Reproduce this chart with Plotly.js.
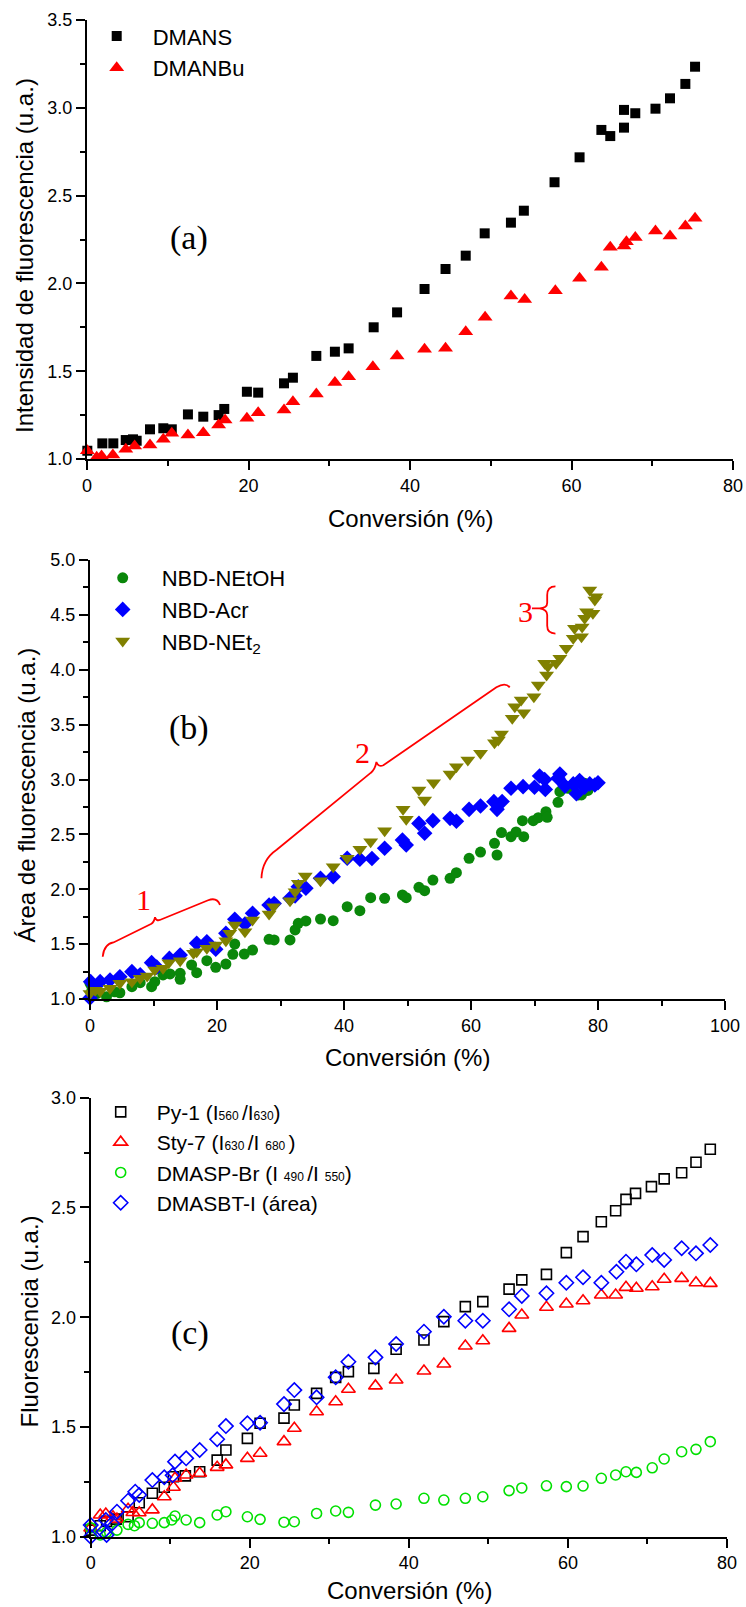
<!DOCTYPE html>
<html>
<head>
<meta charset="utf-8">
<script src="https://cdn.plot.ly/plotly-3.0.1.min.js"></script>
<style>html,body{margin:0;padding:0;background:#fff;}#chart{width:746px;height:1607px;}</style>
</head>
<body>
<div id="chart"></div>
<script>
// ---------- Panel (a) ----------
const dmansX = [0.04,1.2,1.9,3.26,4.8,5.7,6.15,7.8,9.45,10.5,12.5,14.4,16.3,17.0,19.8,21.2,24.4,25.5,28.4,30.7,32.4,35.5,38.4,41.8,44.4,46.9,49.25,52.5,54.1,57.9,61.0,63.7,64.8,66.5,66.5,67.9,70.4,72.2,74.1,75.3];
const dmansY = [1.047,0.995,1.089,1.089,1.108,1.112,1.104,1.169,1.175,1.169,1.254,1.241,1.25,1.285,1.383,1.378,1.431,1.463,1.587,1.611,1.630,1.75,1.835,1.968,2.082,2.158,2.285,2.346,2.414,2.576,2.718,2.874,2.839,2.988,2.887,2.969,2.995,3.054,3.136,3.234];
const dmanbuX = [0.04,1.2,1.8,3.2,4.8,5.9,7.8,9.45,10.5,12.5,14.4,16.3,17.1,19.8,21.2,24.4,25.5,28.4,30.7,32.4,35.4,38.4,41.8,44.4,46.9,49.3,52.5,54.2,58.0,61.0,63.7,64.8,66.5,66.8,67.9,70.4,72.2,74.1,75.3];
const dmanbuY = [1.047,1.01,1.017,1.023,1.055,1.074,1.08,1.112,1.146,1.137,1.15,1.194,1.222,1.232,1.264,1.279,1.326,1.37,1.435,1.469,1.526,1.587,1.625,1.63,1.725,1.807,1.928,1.909,1.958,2.029,2.092,2.206,2.213,2.237,2.262,2.298,2.27,2.327,2.371];

// ---------- Panel (b) ----------
const netohX = [0,0.3,1.05,2.6,3.9,4.7,6.6,7.9,9.7,10.2,11.5,12.6,14.2,14.2,16.0,16.8,18.4,19.8,21.4,22.5,22.8,24.3,25.6,28.2,29.0,31.5,32.3,32.8,34.0,36.3,38.3,40.5,42.5,44.2,46.4,49.2,49.8,51.8,52.7,54.0,56.7,57.7,59.7,61.5,63.7,64.1,64.8,66.3,67.1,68.3,68.1,69.8,70.6,71.8,72.0,73.7,74.0,75.3,76.1,76.9,77.4,77.9,78.4,78.9];
const netohY = [1.143,1.08,1.05,1.02,1.066,1.057,1.112,1.149,1.112,1.158,1.219,1.228,1.234,1.18,1.31,1.24,1.349,1.289,1.319,1.407,1.501,1.41,1.446,1.544,1.538,1.538,1.629,1.69,1.711,1.729,1.714,1.841,1.805,1.923,1.917,1.948,1.923,2.018,1.987,2.084,2.1,2.151,2.282,2.339,2.418,2.312,2.516,2.479,2.522,2.479,2.625,2.625,2.652,2.707,2.655,2.792,2.889,2.92,2.904,2.859,2.859,2.965,2.90,2.95];
const acrX = [0,0.1,0.8,1.6,3.15,4.7,6.6,7.9,9.7,10.5,12.5,14.2,16.8,18.4,19.8,21.4,22.8,24.4,25.6,28.2,29.0,31.5,32.3,32.8,34.0,36.3,38.3,40.5,42.5,44.4,46.4,49.2,49.8,51.8,52.7,54.0,56.7,57.7,59.7,61.5,63.6,64.1,64.9,66.3,68.2,70.0,70.8,71.6,71.7,73.7,74.0,74.8,76.1,76.6,77.1,77.9,78.7,79.5,80.0];
const acrY = [1.01,1.158,1.112,1.158,1.173,1.203,1.249,1.22,1.331,1.29,1.37,1.40,1.507,1.522,1.453,1.598,1.726,1.683,1.781,1.856,1.87,1.917,1.94,2.023,2.009,2.1,2.115,2.282,2.273,2.28,2.373,2.449,2.403,2.6,2.51,2.625,2.646,2.62,2.728,2.758,2.798,2.728,2.80,2.92,2.935,2.929,3.032,3.0,2.91,3.011,3.05,2.94,2.96,2.87,2.99,2.93,2.96,2.95,2.97];
const net2X = [0,0.8,1.6,3.15,4.7,6.6,7.9,9.0,10.2,11.5,12.4,14.2,16.3,16.8,18.4,19.8,21.4,22.0,22.8,24.4,25.6,28.2,28.9,31.5,32.3,32.8,33.9,36.3,38.3,40.5,42.5,44.2,46.4,49.3,49.8,51.8,52.7,54.1,56.7,57.7,59.5,61.5,63.7,64.3,64.8,66.5,66.9,68.3,67.9,69.9,70.6,71.9,71.6,72.1,73.4,74.0,75.0,76.1,76.3,77.4,77.5,77.9,78.2,79.2,79.5,78.7,79.7];
const net2Y = [1.05,1.08,1.07,1.097,1.143,1.158,1.19,1.21,1.264,1.28,1.33,1.349,1.416,1.43,1.462,1.492,1.531,1.60,1.674,1.613,1.72,1.775,1.841,1.896,1.978,2.054,2.12,2.078,2.206,2.282,2.364,2.433,2.533,2.728,2.637,2.905,2.813,2.971,3.05,3.117,3.178,3.239,3.335,3.36,3.414,3.557,3.663,3.609,3.724,3.754,3.861,3.952,4.059,4.03,4.059,4.104,4.195,4.287,4.378,4.301,4.39,4.469,4.529,4.514,4.636,4.727,4.666];

// ---------- Panel (c) ----------
const pyX = [0,1.2,2.0,3.2,4.7,6.1,7.75,9.25,10.4,11.9,13.7,15.9,17.0,19.7,21.3,24.3,25.6,28.4,30.8,32.4,35.6,38.4,41.9,44.4,47.1,49.3,52.6,54.2,57.3,59.8,61.9,64.2,66.0,67.3,68.5,70.5,72.1,74.3,76.1,77.9];
const pyY = [1.03,1.05,1.07,1.08,1.091,1.155,1.198,1.225,1.273,1.277,1.296,1.349,1.395,1.448,1.517,1.54,1.6,1.653,1.726,1.752,1.767,1.854,1.896,1.98,2.048,2.071,2.128,2.17,2.195,2.294,2.367,2.435,2.485,2.537,2.564,2.595,2.63,2.658,2.706,2.765];
const styX = [0,1.2,1.9,2.8,3.3,4.7,5.3,6.1,7.75,9.25,10.4,10.6,12.0,13.7,15.9,17.0,19.7,21.3,24.3,25.6,28.4,30.8,32.4,35.8,38.4,41.9,44.4,47.1,49.3,52.6,54.2,57.3,59.8,61.9,64.2,66.0,67.3,68.6,70.6,72.1,74.3,76.1,77.9];
const styY = [1.04,1.099,1.103,1.091,1.08,1.125,1.11,1.109,1.122,1.182,1.225,1.266,1.281,1.289,1.316,1.327,1.357,1.38,1.433,1.494,1.569,1.615,1.672,1.687,1.714,1.755,1.787,1.869,1.893,1.949,2.01,2.045,2.06,2.075,2.101,2.101,2.136,2.132,2.139,2.173,2.177,2.157,2.154];
const dmaspX = [0,1.2,2.0,3.3,4.7,5.5,6.1,7.75,9.25,10.2,10.6,12.0,13.7,15.9,17.0,19.7,21.3,24.3,25.6,28.4,30.8,32.4,35.8,38.4,41.9,44.4,47.1,49.3,52.6,54.2,57.3,59.8,61.9,64.2,66.0,67.3,68.6,70.6,72.1,74.3,76.1,77.9];
const dmaspY = [1.04,1.008,1.02,1.03,1.056,1.05,1.064,1.061,1.064,1.076,1.094,1.076,1.064,1.099,1.114,1.091,1.079,1.066,1.068,1.106,1.117,1.111,1.144,1.149,1.175,1.167,1.175,1.182,1.21,1.222,1.232,1.228,1.231,1.266,1.281,1.296,1.293,1.314,1.354,1.387,1.398,1.433];
const dmasbtX = [0,0,1.6,2.0,1.9,2.7,3.3,4.7,5.6,6.1,7.75,9.25,10.3,10.6,12.0,13.7,15.9,17.0,19.7,21.3,24.3,25.6,28.4,30.8,32.4,35.8,38.4,41.9,44.4,47.1,49.3,52.6,54.2,57.3,59.8,61.9,64.2,66.1,67.3,68.6,70.6,72.1,74.3,76.1,77.9];
const dmasbtY = [1.0,1.053,1.023,1.008,1.076,1.06,1.114,1.164,1.205,1.19,1.258,1.271,1.28,1.342,1.357,1.395,1.444,1.504,1.517,1.519,1.604,1.668,1.635,1.726,1.797,1.817,1.878,1.934,2.002,1.984,1.984,2.036,2.097,2.109,2.157,2.182,2.157,2.207,2.253,2.241,2.283,2.261,2.314,2.291,2.329];

const W = 746, H = 1607;
const SANS = 'Arial, Liberation Sans, sans-serif';
const SERIF = 'Times New Roman, Liberation Serif, serif';
const px = v => v / W;
const py = v => 1 - v / H;

function mkTrace(x, y, name, symbol, color, size, xa, ya, legend, lw) {
  return {
    type: 'scatter', mode: 'markers', x: x, y: y, name: name,
    xaxis: xa, yaxis: ya, legend: legend, cliponaxis: false,
    marker: {symbol: symbol, color: color, size: size, line: {width: lw || 0, color: color}}
  };
}
const sm = '<span style="font-size:12px">';
const traces = [
  mkTrace(dmansX, dmansY, 'DMANS', 'square', '#000000', 10, 'x', 'y', 'legend'),
  mkTrace(dmanbuX, dmanbuY, 'DMANBu', 'triangle-up', '#ff0000', 13, 'x', 'y', 'legend'),
  mkTrace(netohX, netohY, 'NBD-NEtOH', 'circle', '#0a870a', 11, 'x2', 'y2', 'legend2'),
  mkTrace(acrX, acrY, 'NBD-Acr', 'diamond', '#0000ff', 12, 'x2', 'y2', 'legend2'),
  mkTrace(net2X, net2Y, 'NBD-NEt<sub>2</sub>', 'triangle-down', '#808000', 13, 'x2', 'y2', 'legend2'),
  mkTrace(pyX, pyY, 'Py-1 (I' + sm + '560 </span>/I' + sm + '630</span>)', 'square-open', '#000000', 10, 'x3', 'y3', 'legend3', 1.6),
  mkTrace(styX, styY, 'Sty-7 (I' + sm + '630 </span>/I ' + sm + '680 </span>)', 'triangle-up-open', '#ff0000', 12, 'x3', 'y3', 'legend3', 1.6),
  mkTrace(dmaspX, dmaspY, 'DMASP-Br (I ' + sm + '490 </span>/I ' + sm + '550</span>)', 'circle-open', '#00e000', 10, 'x3', 'y3', 'legend3', 1.6),
  mkTrace(dmasbtX, dmasbtY, 'DMASBT-I (área)', 'diamond-open', '#0000ff', 11, 'x3', 'y3', 'legend3', 1.6)
];

function axis(domain, range, dtick, minorDtick, anchor, fmt) {
  return {
    domain: domain, range: range, anchor: anchor, dtick: dtick, tick0: range[0],
    showline: true, linecolor: '#000', linewidth: 2, mirror: false,
    ticks: 'outside', ticklen: 9, tickwidth: 2, tickcolor: '#000',
    showgrid: false, zeroline: false, tickformat: fmt || '',
    tickfont: {family: SANS, size: 18, color: '#000'},
    minor: {ticks: 'outside', ticklen: 5, tickwidth: 2, tickcolor: '#000', dtick: minorDtick, showgrid: false},
    fixedrange: true
  };
}

function ann(text, x, y, font, extra) {
  return Object.assign({text: text, x: x, y: y, xref: 'paper', yref: 'paper', xanchor: 'center', yanchor: 'middle', showarrow: false, font: font}, extra || {});
}
const titleFont = {family: SANS, size: 24, color: '#000'};
const panelFont = {family: SERIF, size: 34, color: '#000'};
const redFont = {family: SERIF, size: 30, color: '#ff0000'};

const layout = {
  width: W, height: H,
  margin: {l: 0, r: 0, t: 0, b: 0},
  paper_bgcolor: '#fff', plot_bgcolor: 'rgba(0,0,0,0)',
  font: {family: SANS, color: '#000'},
  showlegend: true,
  xaxis: axis([px(87), px(733)], [0, 80], 20, 10, 'y'),
  yaxis: axis([py(459), py(20)], [1, 3.5], 0.5, 0.25, 'x', '.1f'),
  xaxis2: axis([px(90), px(725)], [0, 100], 20, 10, 'y2'),
  yaxis2: axis([py(999), py(560)], [1, 5], 0.5, 0.25, 'x2', '.1f'),
  xaxis3: axis([px(90.7), px(727)], [0, 80], 20, 10, 'y3'),
  yaxis3: axis([py(1536.7), py(1097.7)], [1, 3], 0.5, 0.25, 'x3', '.1f'),
  legend: {x: px(80.7), y: py(15.3), xanchor: 'left', yanchor: 'top', itemwidth: 62,
           font: {family: SANS, size: 22, color: '#000'}, bgcolor: 'rgba(0,0,0,0)', borderwidth: 0, tracegroupgap: 0},
  legend2: {x: px(83.7), y: py(557), xanchor: 'left', yanchor: 'top', itemwidth: 68,
           font: {family: SANS, size: 22, color: '#000'}, bgcolor: 'rgba(0,0,0,0)', borderwidth: 0, tracegroupgap: 0},
  legend3: {x: px(84.7), y: py(1091.7), xanchor: 'left', yanchor: 'top', itemwidth: 62,
           font: {family: SANS, size: 21, color: '#000'}, bgcolor: 'rgba(0,0,0,0)', borderwidth: 0, tracegroupgap: 0},
  annotations: [
    ann('(a)', px(189), py(238), panelFont),
    ann('(b)', px(189), py(728), panelFont),
    ann('(c)', px(189.5), py(1333), panelFont),
    ann('Conversión (%)', px(410), py(518), titleFont),
    ann('Conversión (%)', px(407.5), py(1057), titleFont),
    ann('Conversión (%)', px(409), py(1590), titleFont),
    ann('Intensidad de fluorescencia (u.a.)', px(24), py(256), titleFont, {textangle: -90}),
    ann('Área de fluorescencia (u.a.)', px(25.5), py(795), titleFont, {textangle: -90}),
    ann('Fluorescencia (u.a.)', px(29), py(1321.5), titleFont, {textangle: -90}),
    ann('1', 8.47, 1.904, redFont, {xref: 'x2', yref: 'y2'}),
    ann('2', 42.9, 3.246, redFont, {xref: 'x2', yref: 'y2'}),
    ann('3', 68.66, 4.53, redFont, {xref: 'x2', yref: 'y2'})
  ],
  shapes: [
    {type: 'path', xref: 'x2', yref: 'y2', line: {color: '#ff0000', width: 1.8},
     path: 'M 2.0,1.385 Q 2.2,1.50 3.7,1.515 L 9.6,1.683 Q 10.1,1.70 10.24,1.745 Q 10.4,1.71 11.0,1.72 L 18.6,1.90 Q 20.0,1.93 20.47,1.857'},
    {type: 'path', xref: 'x2', yref: 'y2', line: {color: '#ff0000', width: 1.8},
     path: 'M 27.0,2.10 Q 27.1,2.27 29.4,2.36 L 44.2,3.06 Q 44.9,3.09 45.1,3.16 Q 45.4,3.11 46.2,3.13 L 64.0,3.84 Q 65.4,3.89 66.1,3.84'},
    {type: 'path', xref: 'x2', yref: 'y2', line: {color: '#ff0000', width: 1.8},
     path: 'M 73.3,4.76 Q 72.0,4.76 72.0,4.68 L 72.0,4.61 Q 72.0,4.56 70.8,4.56 L 69.6,4.56 M 70.8,4.56 Q 72.0,4.55 72.0,4.50 L 72.0,4.40 Q 72.0,4.33 73.3,4.33'}
  ]
};

Plotly.newPlot('chart', traces, layout, {staticPlot: true, displayModeBar: false});
</script>
</body>
</html>
